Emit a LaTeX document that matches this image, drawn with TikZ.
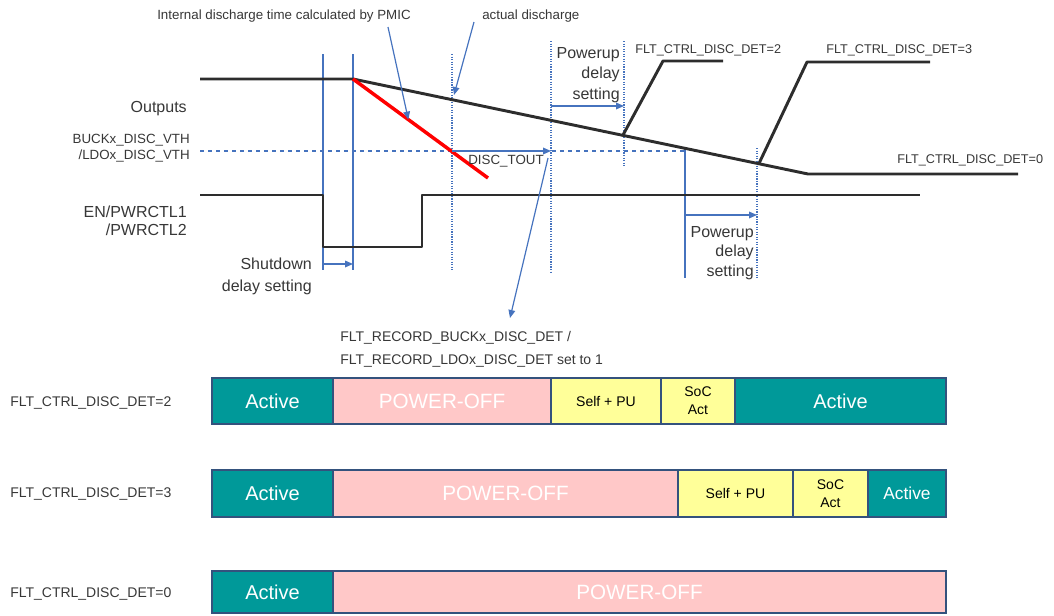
\documentclass[tikz,border=0pt]{standalone}
\usepackage{fontspec}
\setmainfont{Liberation Sans}
\usetikzlibrary{arrows.meta, positioning}

\definecolor{wavegrey}{RGB}{45,45,45}
\definecolor{guideblue}{RGB}{70,115,190}
\definecolor{barblue}{RGB}{52,82,125}
\definecolor{actteal}{RGB}{0,153,153}
\definecolor{offpink}{RGB}{255,200,200}
\definecolor{puyellow}{RGB}{255,255,153}
\definecolor{txtgrey}{RGB}{55,55,55}

\newcommand{\fsz}[2]{\fontsize{#1}{#2}\selectfont}
% one coloured piece of a state bar: name, x1, x2, y1, y2, style, text
\newcommand{\barseg}[7]{%
  \path[seg,#6] (#2,#4) rectangle (#3,#5);
  \node[segtxt,#6] (#1) at ({(#2+#3)/2},{(#4+#5)/2}) {#7};}

\tikzset{
  wave/.style={draw=wavegrey, line width=2.2pt, line join=round},
  disc/.style={draw=red, line width=2.6pt},
  guide/.style={draw=guideblue, line width=0.9pt},
  guidedot/.style={guide, densely dotted},
  thresh/.style={guide, dashed},
  meas/.style={guide, -{Triangle[length=6pt,width=5pt]}},
  lbl/.style={text=txtgrey, inner sep=0pt, font=\fsz{12}{15.5}},
  smalllbl/.style={lbl, font=\fsz{10}{12.5}},
  seg/.style={draw=barblue, line width=2.2pt},
  segtxt/.style={inner sep=0pt, align=center},
  actseg/.style={fill=actteal, text=white, font=\fsz{15}{18}},
  offseg/.style={fill=offpink, text=white, font=\fsz{15.5}{18}},
  puseg/.style={fill=puyellow, text=black, font=\fsz{10.5}{13.5}},
}

\begin{document}
\begin{tikzpicture}[x=0.75pt, y=-0.75pt]
\useasboundingbox (0,0) rectangle (1054,615);

% signal names
\node[lbl, anchor=east] (outlbl) at (187,109) {Outputs};
\node[smalllbl, anchor=east, align=right] (vthlbl) at (190,148) {BUCKx\_DISC\_VTH\\/LDOx\_DISC\_VTH};
\node[lbl, anchor=east, align=right, font=\fsz{12}{13.5}] (enlbl) at (187,221) {EN/PWRCTL1\\/PWRCTL2};

% guide lines
\draw[guide] (323,54) -- (323,270);
\draw[guide] (353,54) -- (353,270);
\draw[guidedot] (452,54) -- (452,270);
\draw[guidedot] (551,41) -- (551,273);
\draw[guidedot] (624,41) -- (624,167);
\draw[guide] (685,148) -- (685,278);
\draw[guidedot] (757,148) -- (757,278);
\draw[thresh] (200,151) -- (685,151);

% waveforms
\coordinate (o0) at (200,79);
\coordinate (o1) at (353,79);
\coordinate (oend) at (808,174);
\draw[wave] (o0) -- (o1) -- coordinate[pos=0.593] (k2) coordinate[pos=0.892] (k3) (oend) -- (1018,174);
\draw[wave] (k2) -- (663,61) -- (723,61);
\draw[wave] (k3) -- (807,62) -- (930,62);
\draw[disc] (o1) -- coordinate[pos=0.41] (redpt) (488,178);
\draw[wave] (200,195) -- (323,195) -- (323,247) -- (422,247) -- (422,195) -- (920,195);

% delays
\draw[meas] (323,264) -- (353,264);
\draw[meas] (452,151) -- coordinate[pos=0.5] (toutmid) (551,151);
\draw[meas] (551,106) -- (624,106);
\draw[meas] (685,215) -- (757,215);

\node[lbl, anchor=east, align=right, font=\fsz{12}{16.5}] (sdlbl) at (312,276) {Shutdown\\delay setting};
\node[lbl, anchor=east, align=right, font=\fsz{12}{15.5}] (pu1lbl) at (620,75) {Powerup\\delay\\setting};
\node[lbl, anchor=east, align=right, font=\fsz{12}{14.8}] (pu2lbl) at (754,253) {Powerup\\delay\\setting};
\node[smalllbl] (toutlbl) at (506,161) {DISC\_TOUT};

% notes
\node[smalllbl] (intlbl) at (284,16) {Internal discharge time calculated by PMIC};
\node[smalllbl, anchor=west] (actlbl) at (482,16) {actual discharge};
\node[smalllbl, font=\fsz{9.5}{12}, anchor=west] (d2lbl) at (635,50) {FLT\_CTRL\_DISC\_DET=2};
\node[smalllbl, font=\fsz{9.5}{12}, anchor=west] (d3lbl) at (826,50) {FLT\_CTRL\_DISC\_DET=3};
\node[smalllbl, font=\fsz{9.5}{12}, anchor=west] (d0lbl) at (897,160) {FLT\_CTRL\_DISC\_DET=0};
\node[smalllbl, font=\fsz{10.5}{17}, anchor=west, align=left] (reclbl) at (340,349) {FLT\_RECORD\_BUCKx\_DISC\_DET /\\FLT\_RECORD\_LDOx\_DISC\_DET set to 1};

\coordinate (intsrc) at (388,27);
\coordinate (actsrc) at (474,22);
\coordinate (actpt) at (454,95);
\coordinate (recsrc) at (548,158);
\coordinate (recpt) at (510,318);
\draw[meas] (intsrc) -- (redpt);
\draw[meas] (actsrc) -- (actpt);
\draw[meas] (recsrc) -- (recpt);

% state bars
\node[lbl, font=\fsz{10.5}{12}, anchor=west] (row2) at (10,403) {FLT\_CTRL\_DISC\_DET=2};
\node[lbl, font=\fsz{10.5}{12}, anchor=west] (row3) at (10,494) {FLT\_CTRL\_DISC\_DET=3};
\node[lbl, font=\fsz{10.5}{12}, anchor=west] (row0) at (10,594) {FLT\_CTRL\_DISC\_DET=0};

\barseg{a2}{212}{333}{378}{424}{actseg}{Active}
\barseg{p2}{333}{551}{378}{424}{offseg}{POWER-OFF}
\barseg{s2}{551}{661}{378}{424}{puseg}{Self + PU}
\barseg{c2}{661}{735}{378}{424}{puseg}{SoC\\Act}
\barseg{e2}{735}{946}{378}{424}{actseg}{Active}

\barseg{a3}{212}{333}{470}{517}{actseg}{Active}
\barseg{p3}{333}{678}{470}{517}{offseg}{POWER-OFF}
\barseg{s3}{678}{793}{470}{517}{puseg}{Self + PU}
\barseg{c3}{793}{868}{470}{517}{puseg}{SoC\\Act}
\barseg{e3}{868}{946}{470}{517}{actseg, font=\fsz{13}{15}}{Active}

\barseg{a0}{212}{333}{571}{613}{actseg}{Active}
\barseg{p0}{333}{946}{571}{613}{offseg}{POWER-OFF}
\end{tikzpicture}
\end{document}
